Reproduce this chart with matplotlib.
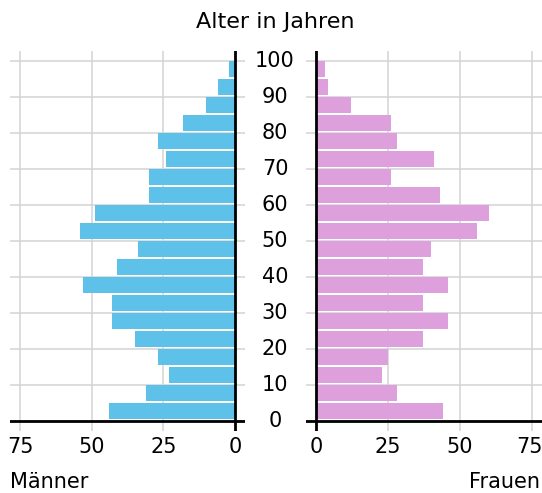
import matplotlib
matplotlib.use('Agg')
import matplotlib.pyplot as plt
import matplotlib.transforms as mtransforms

# age groups (lower bound of each 5-year band)
ages = [0, 5, 10, 15, 20, 25, 30, 35, 40, 45, 50, 55, 60, 65, 70, 75, 80, 85, 90, 95]
maenner = [44, 31, 23, 27, 35, 43, 43, 53, 41, 34, 54, 49, 30, 30, 24, 27, 18, 10, 6, 2]
frauen = [44, 28, 23, 25, 37, 46, 37, 46, 37, 40, 56, 60, 43, 26, 41, 28, 26, 12, 4, 3]
age_ticks = list(range(0, 101, 10))
count_ticks = [0, 25, 50, 75]

blue = '#5ec1ea'
pink = '#dda0dd'
grid = '#d3d3d3'

plt.rcParams['font.family'] = ['DejaVu Sans']
fs = 15

fig = plt.figure(figsize=(5.42, 4.93), dpi=100)
ax_l = fig.add_axes([10 / 542, 62 / 493, 235 / 542, 380 / 493])
ax_r = fig.add_axes([306 / 542, 62 / 493, 236 / 542, 380 / 493])

ax_l.barh([a + 0.5 for a in ages], maenner, height=4.5, align='edge', color=blue, zorder=2)
ax_r.barh([a + 0.5 for a in ages], frauen, height=4.5, align='edge', color=pink, zorder=2)

ax_l.set_xlim(78.5, -3.5)
ax_r.set_xlim(-3.5, 78.5)

for ax in (ax_l, ax_r):
    ax.set_ylim(-2.78, 102.78)
    for s in ax.spines.values():
        s.set_visible(False)
    ax.set_yticks(age_ticks)
    ax.set_yticklabels([])
    ax.set_xticks(count_ticks)
    ax.set_xticklabels([str(t) for t in count_ticks], fontsize=fs)
    ax.tick_params(length=0, pad=4)
    ax.grid(True, color=grid, lw=1.1, zorder=0)
    ax.axvline(0, color='black', lw=2, zorder=3)
    ax.axhline(0, color='black', lw=2, zorder=3)

# keep the outermost right label inside the figure
last = ax_r.get_xticklabels()[-1]
last.set_transform(last.get_transform() + mtransforms.ScaledTranslation(-2 / 100, 0, fig.dpi_scale_trans))

# age labels in the middle
trans = mtransforms.blended_transform_factory(fig.transFigure, ax_l.transData)
for t in age_ticks:
    fig.text(275 / 542, t, str(t), transform=trans, ha='center', va='center', fontsize=fs)

fig.text(275 / 542, 1 - 22 / 493, 'Alter in Jahren', ha='center', va='center', fontsize=16)
fig.text(10 / 542, 1 - 482 / 493, 'Männer', ha='left', va='center', fontsize=fs)
fig.text(540 / 542, 1 - 482 / 493, 'Frauen', ha='right', va='center', fontsize=fs)

fig.savefig('out.png', dpi=100)
